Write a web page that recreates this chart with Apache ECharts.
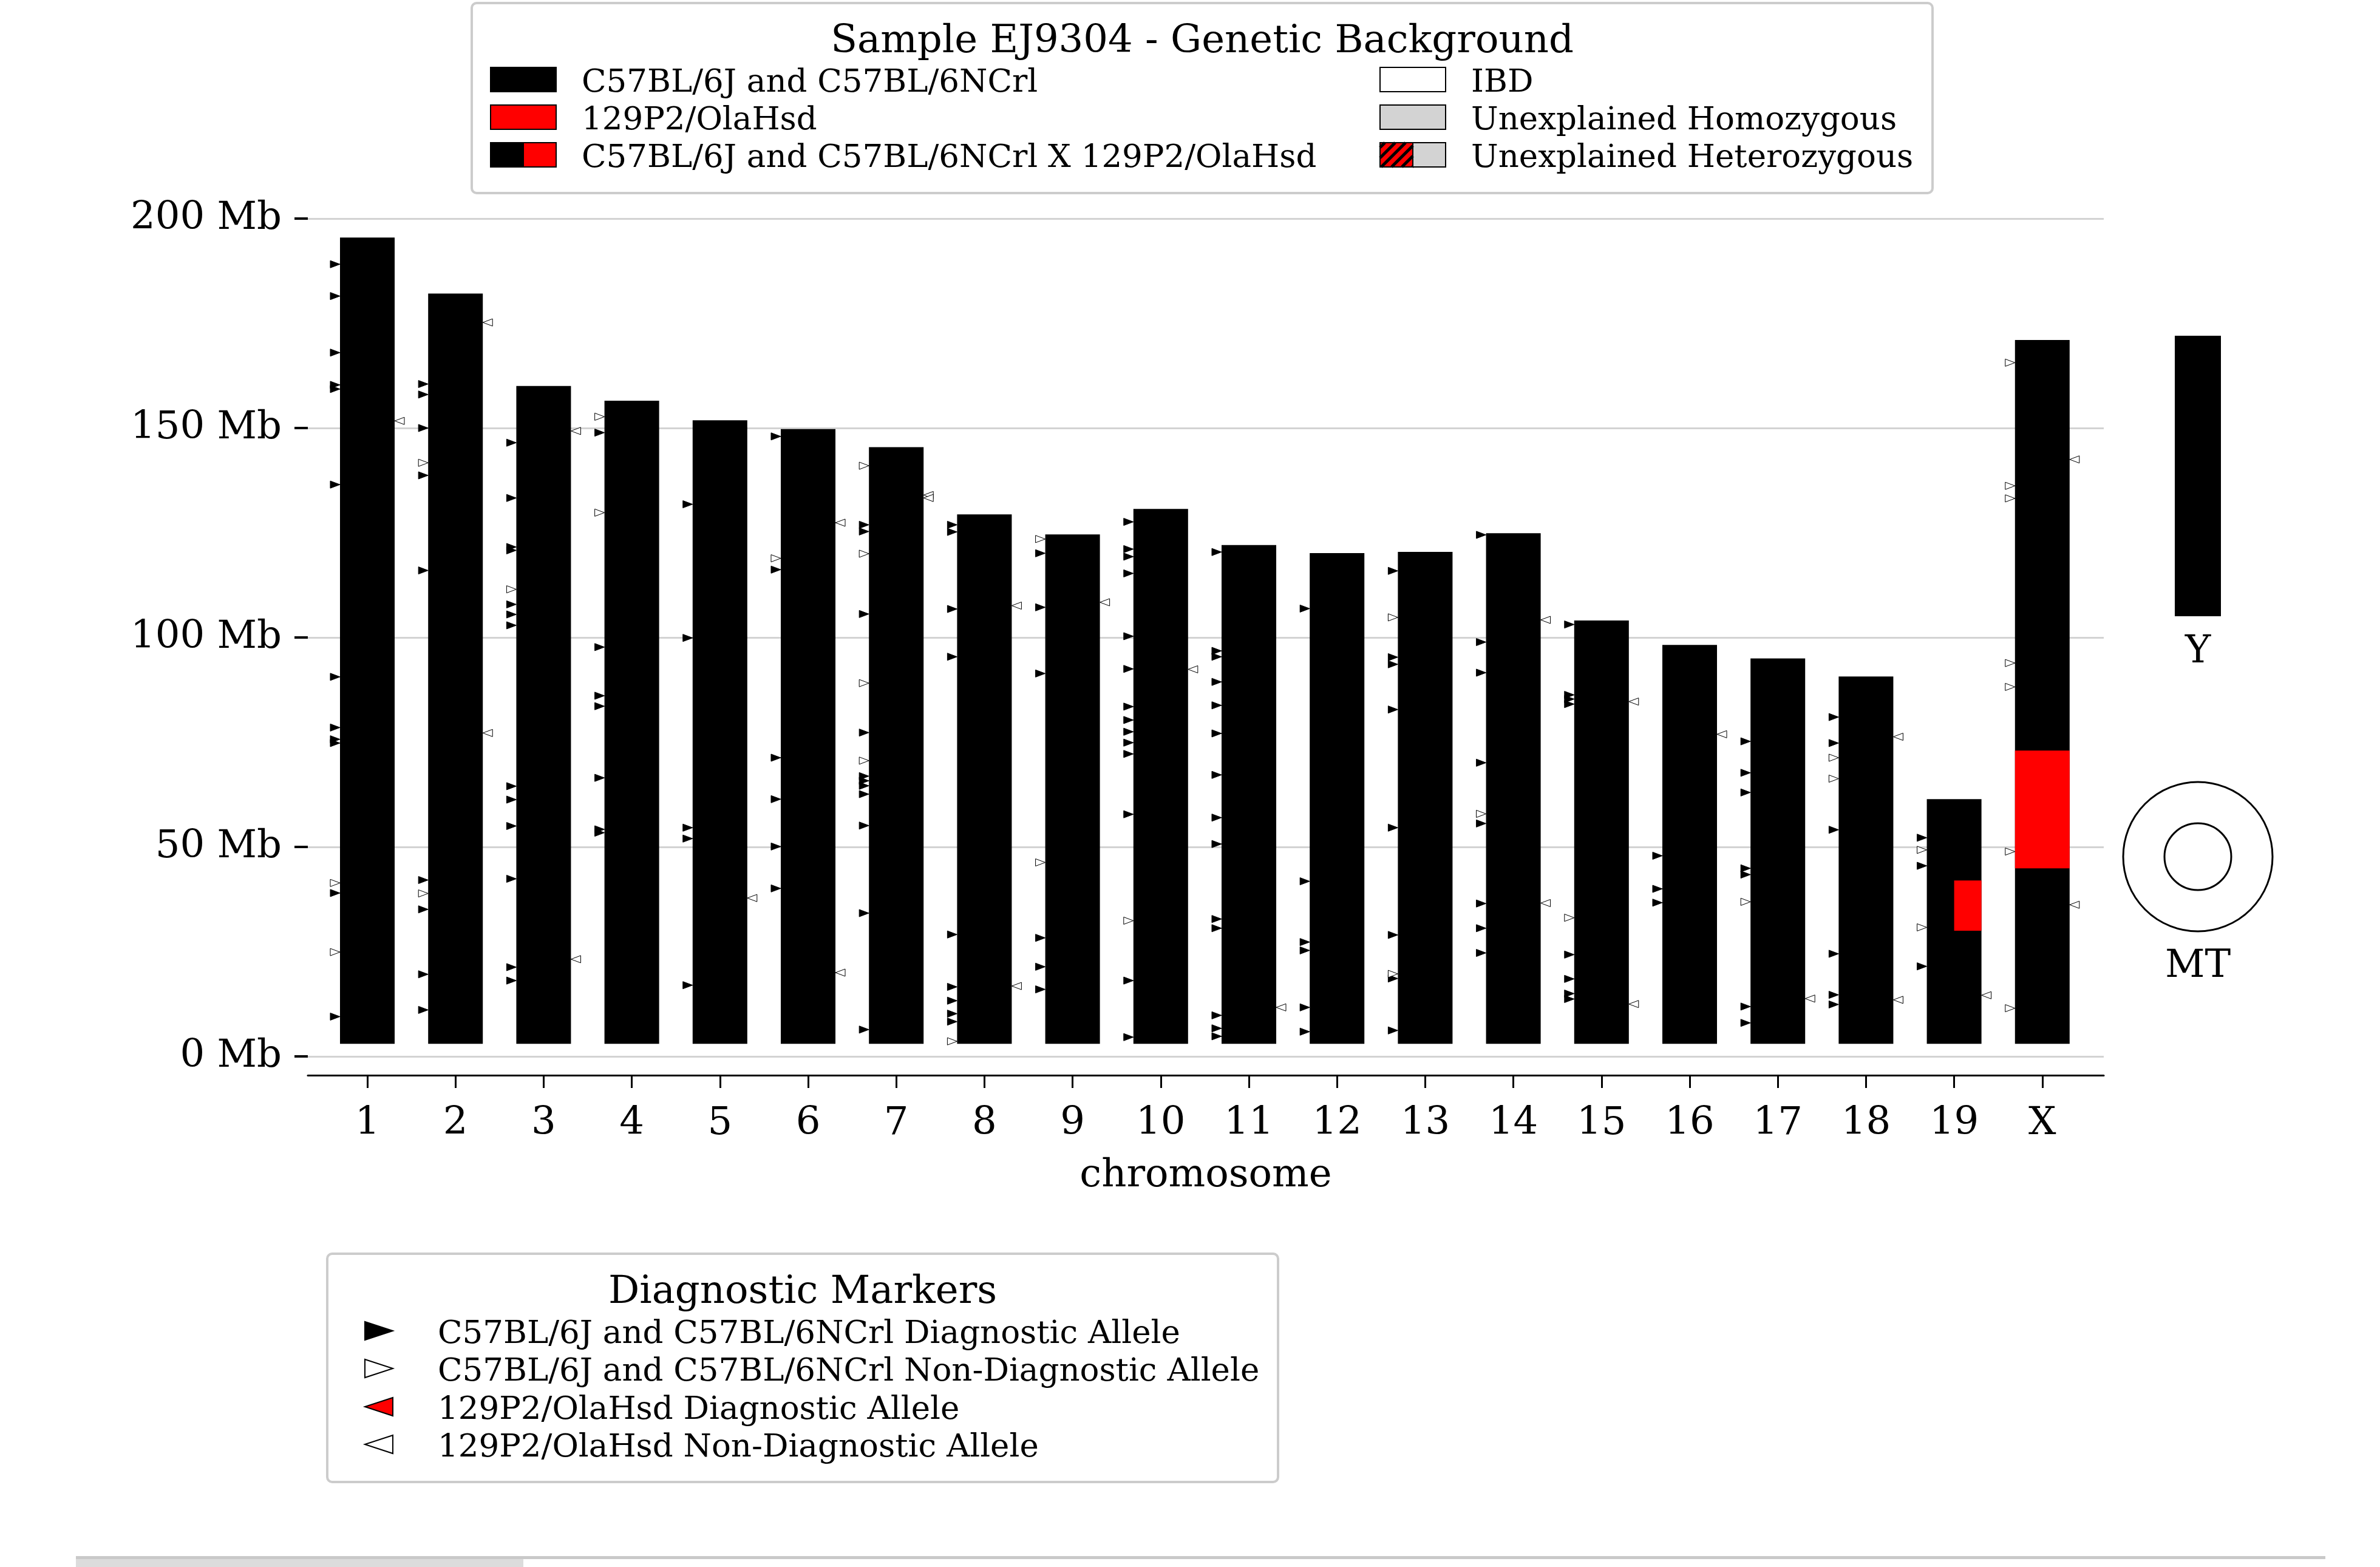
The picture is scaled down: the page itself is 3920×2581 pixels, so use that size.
<!DOCTYPE html>
<html>
<head>
<meta charset="utf-8">
<script src="https://cdn.jsdelivr.net/npm/echarts@6/dist/echarts.min.js"></script>
<style>
  html, body { margin: 0; padding: 0; background: #ffffff; }
  #chart { width: 3920px; height: 2581px; }
</style>
</head>
<body>
<div id="chart"></div>
<script>
// ---- Chromosome layout (Mb) ----
const chromosomes = ['1','2','3','4','5','6','7','8','9','10','11','12','13','14','15','16','17','18','19','X'];
const chromStart = 3;
const chromEnd = [195.47, 182.11, 160.04, 156.51, 151.83, 149.74, 145.44, 129.40, 124.60, 130.69,
                  122.08, 120.13, 120.42, 124.90, 104.04, 98.21, 94.99, 90.70, 61.43, 171.03];
const chrYEnd = 91.74;

// ---- Genotype regions differing from the C57BL background: [chromIndex, start, end] ----
const hetRegions = [[18, 30.0, 42.0]];
const ola129Regions = [[19, 44.9, 73.0]];

// ---- Diagnostic markers: [chromIndex, position Mb] ----
const b6Diagnostic = [
  [0,189.1],[0,181.5],[0,168.0],[0,160.3],[0,159.3],[0,136.5],[0,90.6],[0,78.5],[0,75.7],[0,74.8],[0,39.0],[0,9.5],
  [1,160.5],[1,158.0],[1,150.0],[1,138.7],[1,116.0],[1,42.1],[1,35.1],[1,19.6],[1,11.1],
  [2,146.5],[2,133.3],[2,121.6],[2,120.8],[2,107.9],[2,105.5],[2,102.9],[2,64.5],[2,61.3],[2,55.0],[2,42.4],[2,21.3],[2,18.1],
  [3,148.9],[3,97.7],[3,86.1],[3,83.6],[3,66.5],[3,54.2],[3,53.4],
  [4,131.8],[4,99.9],[4,54.6],[4,52.0],[4,17.0],
  [5,148.0],[5,116.2],[5,71.3],[5,61.4],[5,50.1],[5,40.1],
  [6,126.9],[6,125.3],[6,105.6],[6,77.3],[6,66.9],[6,65.8],[6,64.6],[6,62.6],[6,55.1],[6,34.2],[6,6.4],
  [7,126.9],[7,125.2],[7,106.8],[7,95.4],[7,29.1],[7,16.6],[7,13.3],[7,10.2],[7,8.3],
  [8,120.1],[8,107.2],[8,91.4],[8,28.3],[8,21.4],[8,16.0],
  [9,127.6],[9,121.1],[9,119.3],[9,115.3],[9,100.3],[9,92.5],[9,83.5],[9,80.3],[9,77.5],[9,74.9],[9,72.2],[9,57.8],[9,18.1],[9,4.6],
  [10,120.4],[10,96.8],[10,95.4],[10,89.4],[10,83.8],[10,77.1],[10,67.2],[10,57.0],[10,50.7],[10,32.8],[10,30.6],[10,9.8],[10,6.7],[10,4.8],
  [11,106.9],[11,41.8],[11,27.3],[11,25.3],[11,11.7],[11,5.9],
  [12,115.9],[12,95.3],[12,93.6],[12,82.8],[12,54.6],[12,29.0],[12,18.6],[12,6.2],
  [13,124.5],[13,98.9],[13,91.6],[13,70.1],[13,55.6],[13,36.5],[13,30.6],[13,24.7],
  [14,103.1],[14,86.3],[14,85.3],[14,84.1],[14,24.3],[14,18.5],[14,15.0],[14,13.7],
  [15,47.9],[15,40.0],[15,36.7],
  [16,75.2],[16,67.7],[16,63.0],[16,44.9],[16,43.4],[16,11.9],[16,8.0],
  [17,81.0],[17,74.8],[17,54.1],[17,24.5],[17,14.7],[17,12.4],
  [18,52.2],[18,45.5],[18,21.5]
];
const b6NonDiagnostic = [
  [0,41.4],[0,24.9],
  [1,141.7],[1,38.9],
  [2,111.5],
  [3,152.7],[3,129.8],
  [5,118.9],
  [6,141.0],[6,120.0],[6,89.1],[6,70.6],
  [7,3.6],
  [8,123.5],[8,46.3],
  [9,32.4],
  [12,104.8],[12,19.7],
  [13,57.9],
  [14,33.1],
  [16,36.9],
  [17,71.3],[17,66.3],
  [18,49.3],[18,30.8],
  [19,165.6],[19,136.2],[19,133.2],[19,93.9],[19,88.2],[19,48.9],[19,11.5]
];
const olaDiagnostic = [];
const olaNonDiagnostic = [
  [0,151.7],
  [1,175.2],[1,77.2],
  [2,149.3],[2,23.2],
  [4,37.8],
  [5,127.4],[5,20.0],
  [6,134.0],[6,133.3],
  [7,107.6],[7,16.8],
  [8,108.4],
  [9,92.4],
  [10,11.7],
  [13,104.2],[13,36.6],
  [14,84.7],[14,12.5],
  [15,76.9],
  [16,13.8],
  [17,76.3],[17,13.5],
  [18,14.6],
  [19,142.5],[19,36.2]
];

// ---- Style constants ----
const FONT = 'DejaVu Serif';
const HALF = 0.31;      // half chromosome width, in chromosome-index units
const MW = 16, MH = 12; // marker triangle width / height (px)
const RED = '#ff0000';
const GRID_GREY = '#d3d3d3';
const LEG = 53;         // legend entry font size

function barItem(params, api) {
  const i = api.value(0), s = api.value(1), e = api.value(2);
  const p0 = api.coord([i - HALF, e]);
  const p1 = api.coord([i + HALF, s]);
  return { type: 'rect', shape: { x: p0[0], y: p0[1], width: p1[0] - p0[0], height: p1[1] - p0[1] },
           style: { fill: '#000' } };
}
function hetItem(params, api) {
  const i = api.value(0), s = api.value(1), e = api.value(2);
  const p0 = api.coord([i, e]);
  const p1 = api.coord([i + HALF, s]);
  return { type: 'rect', shape: { x: p0[0], y: p0[1], width: p1[0] - p0[0], height: p1[1] - p0[1] },
           style: { fill: RED } };
}
function homItem(params, api) {
  const i = api.value(0), s = api.value(1), e = api.value(2);
  const p0 = api.coord([i - HALF, e]);
  const p1 = api.coord([i + HALF, s]);
  return { type: 'rect', shape: { x: p0[0], y: p0[1], width: p1[0] - p0[0], height: p1[1] - p0[1] },
           style: { fill: RED } };
}
function leftMarker(fill) {
  return function (params, api) {
    const t = api.coord([api.value(0) - HALF, api.value(1)]);
    return { type: 'polygon',
             shape: { points: [[t[0], t[1]], [t[0] - MW, t[1] - MH / 2], [t[0] - MW, t[1] + MH / 2]] },
             style: { fill: fill, stroke: '#000', lineWidth: 1 } };
  };
}
function rightMarker(fill) {
  return function (params, api) {
    const t = api.coord([api.value(0) + HALF, api.value(1)]);
    return { type: 'polygon',
             shape: { points: [[t[0], t[1]], [t[0] + MW, t[1] - MH / 2], [t[0] + MW, t[1] + MH / 2]] },
             style: { fill: fill, stroke: '#000', lineWidth: 1 } };
  };
}
function yBarItem(params, api) {
  const bw = api.size([1, 0])[0];
  const c0 = api.coord([api.value(0), api.value(2)]);
  const c1 = api.coord([api.value(0), api.value(1)]);
  return { type: 'rect', shape: { x: c0[0] - bw / 2, y: c0[1], width: bw, height: c1[1] - c0[1] },
           style: { fill: '#000' } };
}

// ---- Legend decorations ----
function txt(text, x, y, size, align) {
  return { type: 'text', silent: true,
           style: { text: text, x: x, y: y, font: size + 'px "' + FONT + '"', fill: '#000',
                    align: align, textAlign: align, verticalAlign: 'middle', textVerticalAlign: 'middle' } };
}
function box(x, y, w, h, fill) {
  return { type: 'rect', silent: true, shape: { x: x, y: y, width: w, height: h },
           style: { fill: fill, stroke: '#000', lineWidth: 2 } };
}
const SW = 108, SH = 40;
const rowsY = [131, 193, 255];
const TXT_DY = 6;   // raises glyph centre onto the row centre
const legendTop = [
  { type: 'rect', silent: true, shape: { x: 777, y: 5, width: 2406, height: 313, r: 8 },
    style: { fill: '#fff', stroke: '#cccccc', lineWidth: 4 } },
  txt('Sample EJ9304 - Genetic Background', 1980, 63 + TXT_DY, 64, 'center'),
  box(808, rowsY[0] - SH / 2, SW, SH, '#000'),
  box(808, rowsY[1] - SH / 2, SW, SH, RED),
  box(808, rowsY[2] - SH / 2, SW / 2, SH, '#000'),
  box(808 + SW / 2, rowsY[2] - SH / 2, SW / 2, SH, RED),
  txt('C57BL/6J and C57BL/6NCrl', 958, rowsY[0] + TXT_DY, LEG, 'left'),
  txt('129P2/OlaHsd', 958, rowsY[1] + TXT_DY, LEG, 'left'),
  txt('C57BL/6J and C57BL/6NCrl X 129P2/OlaHsd', 958, rowsY[2] + TXT_DY, LEG, 'left'),
  box(2273, rowsY[0] - SH / 2, SW, SH, '#ffffff'),
  box(2273, rowsY[1] - SH / 2, SW, SH, '#d3d3d3'),
  box(2273, rowsY[2] - SH / 2, SW / 2, SH, RED),
  box(2273 + SW / 2, rowsY[2] - SH / 2, SW / 2, SH, '#d3d3d3'),
  txt('IBD', 2423, rowsY[0] + TXT_DY, LEG, 'left'),
  txt('Unexplained Homozygous', 2423, rowsY[1] + TXT_DY, LEG, 'left'),
  txt('Unexplained Heterozygous', 2423, rowsY[2] + TXT_DY, LEG, 'left')
];
// diagonal hatching inside the heterozygous swatch
(function () {
  const x0 = 2273, y0 = rowsY[2] - SH / 2, w = SW / 2, h = SH;
  for (let c = 8; c < w + h; c += 17) {
    const xa = Math.max(0, c - h), xb = Math.min(w, c);
    legendTop.push({ type: 'line', silent: true,
      shape: { x1: x0 + xa, y1: y0 + (c - xa), x2: x0 + xb, y2: y0 + (c - xb) },
      style: { stroke: '#000', lineWidth: 5 } });
  }
  legendTop.push({ type: 'rect', silent: true, shape: { x: x0, y: y0, width: w, height: h },
                   style: { fill: 'none', stroke: '#000', lineWidth: 2 } });
})();

const mRowsY = [2192, 2254, 2317, 2379];
const mx0 = 601, mx1 = 647, mh = 15;
const legendBottom = [
  { type: 'rect', silent: true, shape: { x: 539, y: 2065, width: 1566, height: 376, r: 8 },
    style: { fill: '#fff', stroke: '#cccccc', lineWidth: 4 } },
  txt('Diagnostic Markers', 1322, 2123 + TXT_DY, 64, 'center'),
  { type: 'polygon', silent: true, shape: { points: [[mx0, mRowsY[0] - mh], [mx1, mRowsY[0]], [mx0, mRowsY[0] + mh]] },
    style: { fill: '#000', stroke: '#000', lineWidth: 2 } },
  { type: 'polygon', silent: true, shape: { points: [[mx0, mRowsY[1] - mh], [mx1, mRowsY[1]], [mx0, mRowsY[1] + mh]] },
    style: { fill: '#fff', stroke: '#000', lineWidth: 2 } },
  { type: 'polygon', silent: true, shape: { points: [[mx1, mRowsY[2] - mh], [mx0, mRowsY[2]], [mx1, mRowsY[2] + mh]] },
    style: { fill: RED, stroke: '#000', lineWidth: 2 } },
  { type: 'polygon', silent: true, shape: { points: [[mx1, mRowsY[3] - mh], [mx0, mRowsY[3]], [mx1, mRowsY[3] + mh]] },
    style: { fill: '#fff', stroke: '#000', lineWidth: 2 } },
  txt('C57BL/6J and C57BL/6NCrl Diagnostic Allele', 721, mRowsY[0] + TXT_DY, LEG, 'left'),
  txt('C57BL/6J and C57BL/6NCrl Non-Diagnostic Allele', 721, mRowsY[1] + TXT_DY, LEG, 'left'),
  txt('129P2/OlaHsd Diagnostic Allele', 721, mRowsY[2] + TXT_DY, LEG, 'left'),
  txt('129P2/OlaHsd Non-Diagnostic Allele', 721, mRowsY[3] + TXT_DY, LEG, 'left')
];

// mitochondrial genome symbol
const mtSymbol = [
  { type: 'circle', silent: true, shape: { cx: 3620, cy: 1411, r: 123 }, style: { fill: 'none', stroke: '#000', lineWidth: 3 } },
  { type: 'circle', silent: true, shape: { cx: 3620, cy: 1411, r: 55 }, style: { fill: 'none', stroke: '#000', lineWidth: 3 } },
  txt('MT', 3620, 1586 + TXT_DY, 64, 'center')
];

// page scroll strip along the bottom edge
const strip = [
  { type: 'rect', silent: true, shape: { x: 125, y: 2563, width: 3705, height: 5 }, style: { fill: '#c9c9c9' } },
  { type: 'rect', silent: true, shape: { x: 125, y: 2568, width: 737, height: 13 }, style: { fill: '#dcdcdc' } }
];

const chart = echarts.init(document.getElementById('chart'), null, { renderer: 'canvas', width: 3920, height: 2581 });
const tickIdx = chromosomes.map((_, i) => i);

chart.setOption({
  animation: false,
  backgroundColor: '#ffffff',
  grid: [
    { left: 507, right: 455, top: 360, bottom: 841 },
    { left: 3582, top: 553, width: 76, height: 462 }
  ],
  xAxis: [
    { type: 'value', gridIndex: 0, min: -0.675, max: 19.697, offset: 31,
      axisLine: { show: true, onZero: false, lineStyle: { color: '#000', width: 3 } },
      axisTick: { show: true, customValues: tickIdx, length: 21, lineStyle: { color: '#000', width: 3 } },
      axisLabel: { customValues: tickIdx, formatter: v => chromosomes[Math.round(v)],
                   fontSize: 64, fontFamily: FONT, color: '#000', margin: 48 },
      splitLine: { show: false },
      name: 'chromosome', nameLocation: 'middle', nameGap: 134,
      nameTextStyle: { fontSize: 64, fontFamily: FONT, color: '#000' } },
    { type: 'category', gridIndex: 1, data: ['Y'],
      axisLine: { show: false }, axisTick: { show: false },
      axisLabel: { fontSize: 64, fontFamily: FONT, color: '#000', margin: 27 } }
  ],
  yAxis: [
    { type: 'value', gridIndex: 0, min: 0, max: 200, interval: 50,
      axisLine: { show: false, onZero: false },
      axisTick: { show: true, length: 22, lineStyle: { color: '#000', width: 4 } },
      axisLabel: { formatter: '{value} Mb', fontSize: 64, fontFamily: FONT, color: '#000', margin: 43,
                   padding: [22, 0, 0, 0] },
      splitLine: { show: true, lineStyle: { color: GRID_GREY, width: 3 } } },
    { type: 'value', gridIndex: 1, min: chromStart, max: chrYEnd, show: false, splitLine: { show: false } }
  ],
  series: [
    { type: 'custom', name: 'C57BL/6J and C57BL/6NCrl', renderItem: barItem, z: 2,
      data: chromEnd.map((e, i) => [i, chromStart, e]) },
    { type: 'custom', name: 'C57BL/6J and C57BL/6NCrl X 129P2/OlaHsd', renderItem: hetItem, z: 3,
      data: hetRegions },
    { type: 'custom', name: '129P2/OlaHsd', renderItem: homItem, z: 3, data: ola129Regions },
    { type: 'custom', name: 'C57BL/6J and C57BL/6NCrl Diagnostic Allele', renderItem: leftMarker('#000'), z: 4,
      data: b6Diagnostic },
    { type: 'custom', name: 'C57BL/6J and C57BL/6NCrl Non-Diagnostic Allele', renderItem: leftMarker('#fff'), z: 4,
      data: b6NonDiagnostic },
    { type: 'custom', name: '129P2/OlaHsd Diagnostic Allele', renderItem: rightMarker(RED), z: 4,
      data: olaDiagnostic },
    { type: 'custom', name: '129P2/OlaHsd Non-Diagnostic Allele', renderItem: rightMarker('#fff'), z: 4,
      data: olaNonDiagnostic },
    { type: 'custom', name: 'Y', xAxisIndex: 1, yAxisIndex: 1, renderItem: yBarItem, z: 2,
      data: [[0, chromStart, chrYEnd]] }
  ],
  graphic: [].concat(legendTop, legendBottom, mtSymbol, strip)
});
</script>
</body>
</html>
